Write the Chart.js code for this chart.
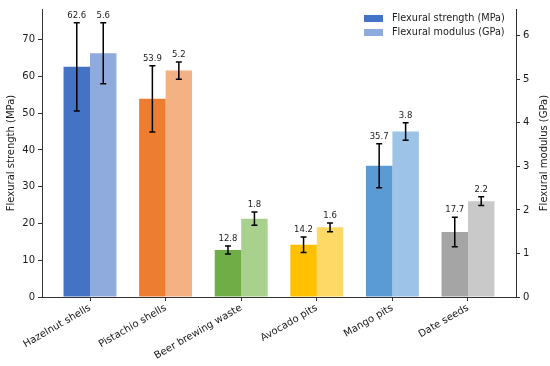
<!DOCTYPE html>
<html>
<head>
<meta charset="utf-8">
<script src="https://cdn.jsdelivr.net/npm/chart.js@4"></script>
<style>
  html, body { margin: 0; padding: 0; background: #fff; }
  #wrap { width: 550px; height: 366px; }
</style>
</head>
<body>
<div id="wrap"><canvas id="chart" width="550" height="366"></canvas></div>
<script>
// ===== DATOS =====
const categories = ['Hazelnut shells', 'Pistachio shells', 'Beer brewing waste', 'Avocado pits', 'Mango pits', 'Date seeds'];
const strength = [62.6, 53.9, 12.8, 14.2, 35.7, 17.7];
const strengthErr = [12, 9, 1.1, 2.1, 6, 4];
const modulus = [5.6, 5.2, 1.8, 1.6, 3.8, 2.2];
const modulusErr = [0.7, 0.2, 0.15, 0.1, 0.2, 0.1];
const strengthTicks = [0, 10, 20, 30, 40, 50, 60, 70];
const modulusTicks = [0, 1, 2, 3, 4, 5, 6];
const seriesLabels = ['Flexural strength (MPa)', 'Flexural modulus (GPa)'];
const axisTitles = ['Flexural strength (MPa)', 'Flexural modulus (GPa)'];

// ===== ESTILOS =====
const strengthColors = ['#4472C4', '#ED7D31', '#70AD47', '#FFC000', '#5B9BD5', '#A5A5A5'];
const modulusColors = ['#8FAADC', '#F4B183', '#A9D18E', '#FFD966', '#9DC3E6', '#C9C9C9'];
const font = 'DejaVu Sans';
const textColor = '#1a1a1a';
const spineColor = '#333';

// barras de error + etiquetas de valor
const errorBarsPlugin = {
    id: 'errorBars',
    afterDatasetsDraw(chart) {
        const ctx = chart.ctx;
        const errs = [strengthErr, modulusErr];
        const vals = [strength, modulus];
        const axes = ['y', 'y1'];
        ctx.save();
        for (let d = 0; d < 2; d++) {
            const meta = chart.getDatasetMeta(d);
            const scale = chart.scales[axes[d]];
            meta.data.forEach((bar, i) => {
                const x = bar.x;
                const yTop = scale.getPixelForValue(vals[d][i] + errs[d][i]);
                const yBot = scale.getPixelForValue(vals[d][i] - errs[d][i]);
                ctx.strokeStyle = '#000';
                ctx.lineWidth = 1.5;
                ctx.beginPath();
                ctx.moveTo(x, yTop); ctx.lineTo(x, yBot);
                ctx.moveTo(x - 3, yTop); ctx.lineTo(x + 3, yTop);
                ctx.moveTo(x - 3, yBot); ctx.lineTo(x + 3, yBot);
                ctx.stroke();
                ctx.fillStyle = textColor;
                ctx.font = '8.5px "' + font + '"';
                ctx.textAlign = 'center';
                ctx.textBaseline = 'alphabetic';
                ctx.fillText(vals[d][i].toFixed(1), x, yTop - 5);
            });
        }
        ctx.restore();
    }
};

// leyenda dentro del área + título del eje derecho
const extrasPlugin = {
    id: 'extras',
    afterDraw(chart) {
        const ctx = chart.ctx;
        ctx.save();
        ctx.font = '9.7px "' + font + '"';
        ctx.textBaseline = 'middle';
        ctx.textAlign = 'left';
        [strengthColors[0], modulusColors[0]].forEach((c, i) => {
            const cy = 18.5 + i * 14;
            ctx.fillStyle = c;
            ctx.fillRect(364, cy - 3.5, 19, 7);
            ctx.fillStyle = textColor;
            ctx.fillText(seriesLabels[i], 392, cy);
        });
        const a = chart.chartArea;
        ctx.translate(544, (a.top + a.bottom) / 2);
        ctx.rotate(-Math.PI / 2);
        ctx.textAlign = 'center';
        ctx.font = '10px "' + font + '"';
        ctx.fillText(axisTitles[1], 0, 0);
        ctx.restore();
    }
};

const tickFont = { family: font, size: 10 };

new Chart(document.getElementById('chart'), {
    type: 'bar',
    data: {
        datasets: [
            {
                label: seriesLabels[0],
                data: strength.map((v, i) => ({ x: i, y: v })),
                backgroundColor: strengthColors,
                yAxisID: 'y',
                categoryPercentage: 0.7,
                barPercentage: 1,
                borderWidth: 0
            },
            {
                label: seriesLabels[1],
                data: modulus.map((v, i) => ({ x: i, y: v })),
                backgroundColor: modulusColors,
                yAxisID: 'y1',
                categoryPercentage: 0.7,
                barPercentage: 1,
                borderWidth: 0
            }
        ]
    },
    options: {
        responsive: false,
        animation: false,
        layout: { padding: { top: 5, left: 0, right: 0, bottom: 0 } },
        plugins: { legend: { display: false }, tooltip: { enabled: false } },
        scales: {
            x: {
                type: 'linear',
                min: -0.635,
                max: 5.635,
                offset: false,
                afterBuildTicks: s => { s.ticks = categories.map((c, i) => ({ value: i })); },
                afterFit: s => { s.height = 69; },
                ticks: {
                    callback: v => categories[v],
                    maxRotation: 30,
                    minRotation: 30,
                    autoSkip: false,
                    color: textColor,
                    font: tickFont,
                    padding: 1
                },
                grid: { offset: false, drawOnChartArea: false, tickLength: 4, color: spineColor },
                border: { color: spineColor }
            },
            y: {
                position: 'left',
                min: 0,
                max: 78.33,
                afterBuildTicks: s => { s.ticks = strengthTicks.map(v => ({ value: v })); },
                afterFit: s => { s.width = 42; },
                ticks: { color: textColor, font: tickFont, padding: 3 },
                grid: { drawOnChartArea: false, tickLength: 4, color: spineColor },
                border: { color: spineColor },
                title: { display: true, text: axisTitles[0], color: textColor, font: { family: font, size: 10 }, padding: { top: 5, bottom: 0 } }
            },
            y1: {
                position: 'right',
                min: 0,
                max: 6.615,
                afterBuildTicks: s => { s.ticks = modulusTicks.map(v => ({ value: v })); },
                afterFit: s => { s.width = 34; },
                ticks: { color: textColor, font: tickFont, padding: 3 },
                grid: { drawOnChartArea: false, tickLength: 4, color: spineColor },
                border: { color: spineColor }
            }
        }
    },
    plugins: [errorBarsPlugin, extrasPlugin]
});
</script>
</body>
</html>
